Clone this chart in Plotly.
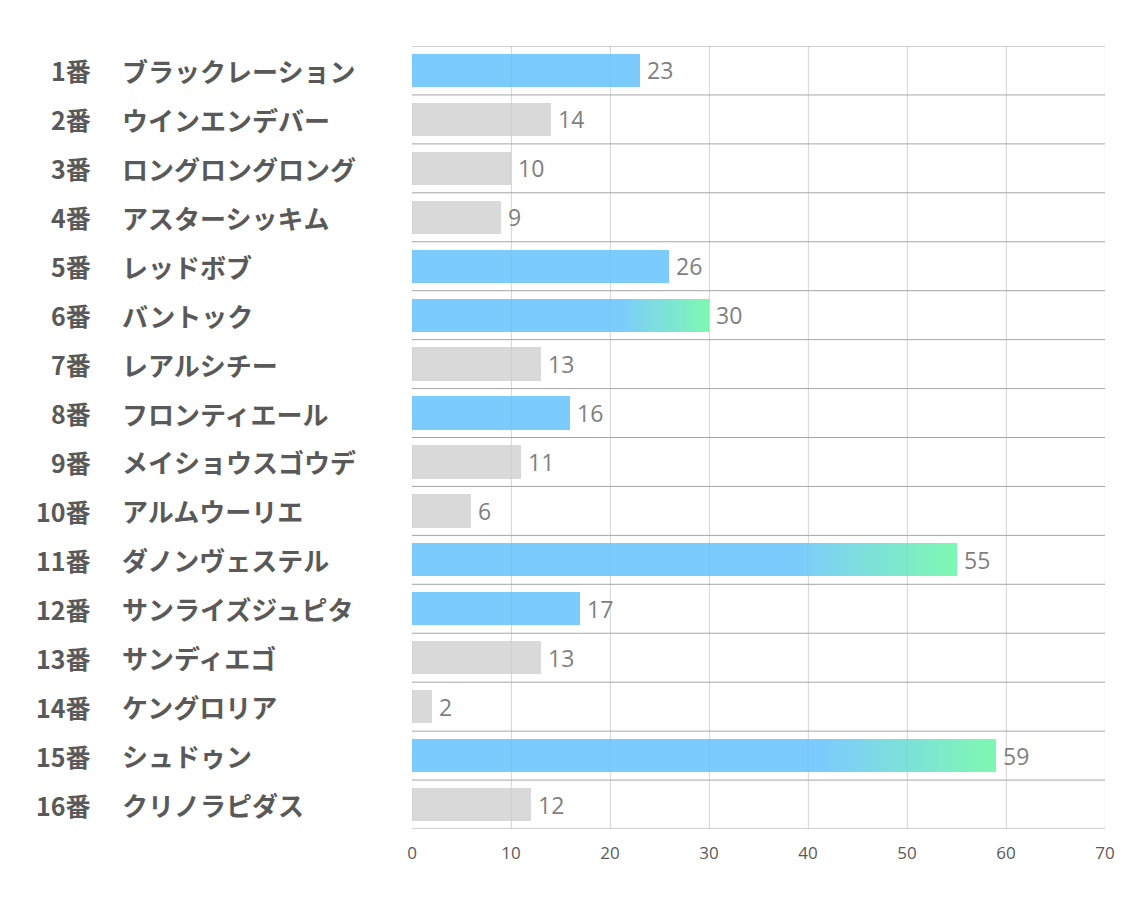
import plotly.graph_objects as go

numbers = ["1番", "2番", "3番", "4番", "5番", "6番", "7番", "8番",
           "9番", "10番", "11番", "12番", "13番", "14番", "15番", "16番"]
names = ["ブラックレーション", "ウインエンデバー", "ロングロングロング", "アスターシッキム",
         "レッドボブ", "バントック", "レアルシチー", "フロンティエール",
         "メイショウスゴウデ", "アルムウーリエ", "ダノンヴェステル", "サンライズジュピタ",
         "サンディエゴ", "ケングロリア", "シュドゥン", "クリノラピダス"]
values = [23, 14, 10, 9, 26, 30, 13, 16, 11, 6, 55, 17, 13, 2, 59, 12]
# 0 = gray, 1 = blue, 2 = blue with gradient
kinds = [1, 0, 0, 0, 1, 2, 0, 1, 0, 0, 2, 1, 0, 0, 2, 0]
x_ticks = [0, 10, 20, 30, 40, 50, 60, 70]

BLUE = (124, 203, 253)
GREEN = (126, 248, 178)
GRAY = "#d9d9d9"
BAR_W = 0.68
N_SEG = 24
GRAD_START = 0.7

L, R, T, B = 404, 29, 38, 78
W, H = 1126, 899
PW = W - L - R

def rgb(c):
    return "rgb(%d,%d,%d)" % c

def mix(a, b, t):
    return tuple(int(round(a[i] + (b[i] - a[i]) * t)) for i in range(3))

fig = go.Figure()

solid_x, solid_y, solid_col = [], [], []
for i, (v, k) in enumerate(zip(values, kinds)):
    solid_x.append(v * GRAD_START if k == 2 else v)
    solid_y.append(i)
    solid_col.append(GRAY if k == 0 else rgb(BLUE))
fig.add_trace(go.Bar(x=solid_x, y=solid_y, orientation="h", width=BAR_W,
                     marker=dict(color=solid_col, line=dict(width=0)),
                     hoverinfo="skip", showlegend=False))

for s in range(N_SEG):
    gx, gb, gy, gc = [], [], [], []
    for i, (v, k) in enumerate(zip(values, kinds)):
        if k != 2:
            continue
        start = v * GRAD_START
        seg = (v - start) / N_SEG
        gb.append(start + s * seg)
        gx.append(seg * 1.05 if s < N_SEG - 1 else seg)
        gy.append(i)
        gc.append(rgb(mix(BLUE, GREEN, (s + 0.5) / N_SEG)))
    fig.add_trace(go.Bar(x=gx, base=gb, y=gy, orientation="h", width=BAR_W,
                         marker=dict(color=gc, line=dict(width=0)),
                         hoverinfo="skip", showlegend=False))

# faint vertical grid over bars
for t in x_ticks:
    fig.add_shape(type="line", xref="x", yref="paper", x0=t, x1=t, y0=0, y1=1,
                  line=dict(color="rgba(0,0,0,0.05)", width=1), layer="above")

# horizontal separators
for b in range(len(values) + 1):
    fig.add_shape(type="line", xref="paper", yref="y", x0=0, x1=1,
                  y0=b - 0.5, y1=b - 0.5, line=dict(color="#a6a6a6", width=1),
                  layer="above")

annotations = []
num_font = dict(family="Noto Sans CJK JP", size=25, color="#595959", weight="bold")
name_font = dict(family="Noto Sans CJK JP", size=26, color="#595959", weight="bold")
for i, v in enumerate(values):
    annotations.append(dict(x=v, y=i, xref="x", yref="y", text=str(v),
                            showarrow=False, xanchor="left", xshift=5,
                            font=dict(family="Open Sans", size=23, color="#7f7f7f")))
    annotations.append(dict(x=(85 - L) / PW, y=i, xref="paper", yref="y", text=numbers[i],
                            showarrow=False, xanchor="right", font=num_font))
    annotations.append(dict(x=(112 - L) / PW, y=i, xref="paper", yref="y", text=names[i],
                            showarrow=False, xanchor="left", font=name_font))

fig.update_layout(
    width=W, height=H,
    margin=dict(l=L, r=R, t=T, b=B),
    paper_bgcolor="white", plot_bgcolor="white",
    barmode="overlay",
    bargap=0,
    annotations=annotations,
    xaxis=dict(range=[0, 70], tickvals=x_ticks, showgrid=True, gridcolor="#e0e0e0",
               gridwidth=1, zeroline=False, showline=False, ticks="",
               tickfont=dict(family="Open Sans", size=17, color="#595959"),
               ticklabelstandoff=12, fixedrange=True),
    yaxis=dict(range=[len(values) - 0.5, -0.5], showticklabels=False, showgrid=False,
               zeroline=False, showline=False, ticks="", fixedrange=True),
)

fig.write_html("out.html")
